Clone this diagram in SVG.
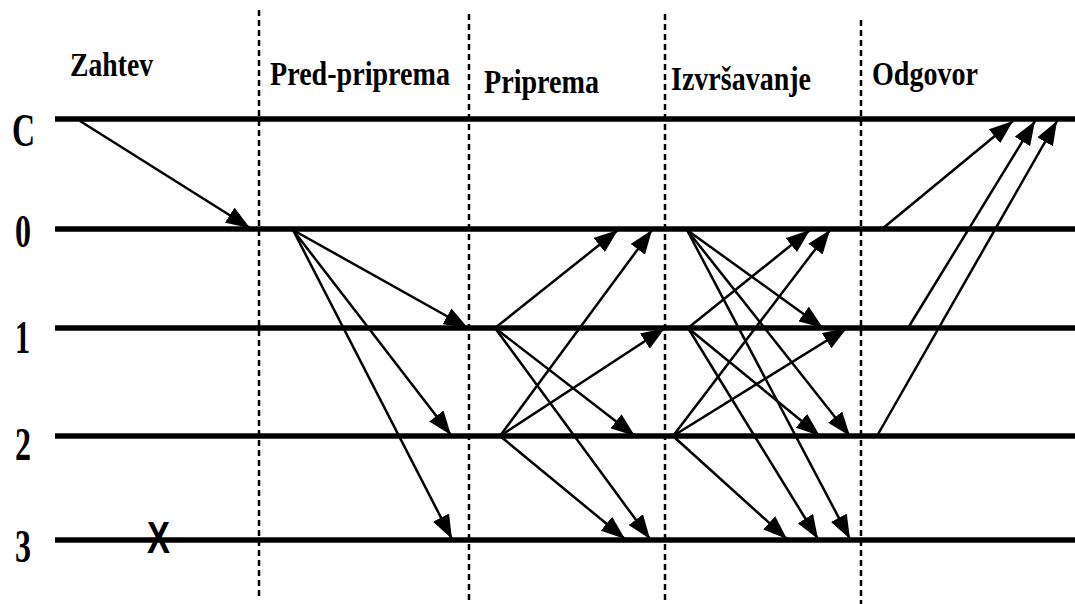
<svg xmlns="http://www.w3.org/2000/svg" width="1075" height="604" viewBox="0 0 1075 604">
  <style>
    .bg { fill: #ffffff; }
    .timeline { stroke: #000; stroke-width: 5.5; }
    .divider { stroke: #000; stroke-width: 2.5; stroke-dasharray: 6 4; }
    .msg { stroke: #000; stroke-width: 2.5; fill: none; marker-end: url(#head); }
    .phase { font-family: "Liberation Serif", "Times New Roman", serif; font-weight: bold; font-size: 34px; fill: #000; }
    .rid { font-family: "Liberation Serif", "Times New Roman", serif; font-weight: bold; font-size: 46px; fill: #000; }
    .fail { font-family: "Liberation Sans", Arial, sans-serif; font-weight: bold; font-size: 44px; fill: #000; }
  </style>
  <defs>
    <marker id="head" markerUnits="userSpaceOnUse" markerWidth="25" markerHeight="18" refX="24" refY="9" orient="auto" viewBox="0 0 25 18">
      <path d="M0,0 L24,9 L0,18 Z" fill="#000"/>
    </marker>
  </defs>

  <rect class="bg" x="0" y="0" width="1075" height="604"/>

  <!-- phase separators -->
  <g id="dividers">
    <line class="divider" x1="259" y1="10" x2="259" y2="600"/>
    <line class="divider" x1="469" y1="14" x2="469" y2="604"/>
    <line class="divider" x1="665" y1="14" x2="665" y2="600"/>
    <line class="divider" x1="861" y1="20" x2="861" y2="604"/>
  </g>

  <!-- phase titles -->
  <g id="phase-request"><text class="phase" x="70" y="76" textLength="83" lengthAdjust="spacingAndGlyphs">Zahtev</text></g>
  <g id="phase-preprepare"><text class="phase" x="270" y="85" textLength="180" lengthAdjust="spacingAndGlyphs">Pred-priprema</text></g>
  <g id="phase-prepare"><text class="phase" x="484" y="93" textLength="115" lengthAdjust="spacingAndGlyphs">Priprema</text></g>
  <g id="phase-commit"><text class="phase" x="671" y="90" textLength="140" lengthAdjust="spacingAndGlyphs">Izvršavanje</text></g>
  <g id="phase-reply"><text class="phase" x="872" y="85" textLength="106" lengthAdjust="spacingAndGlyphs">Odgovor</text></g>

  <!-- client and replica timelines -->
  <g id="client">
    <line class="timeline" x1="55" y1="119" x2="1075" y2="119"/>
    <text class="rid" x="12" y="146" textLength="23" lengthAdjust="spacingAndGlyphs">C</text>
  </g>
  <g id="replica-0">
    <line class="timeline" x1="55" y1="229" x2="1075" y2="229"/>
    <text class="rid" x="15" y="247" textLength="16" lengthAdjust="spacingAndGlyphs">0</text>
  </g>
  <g id="replica-1">
    <line class="timeline" x1="55" y1="328" x2="1075" y2="328"/>
    <text class="rid" x="15" y="353" textLength="15" lengthAdjust="spacingAndGlyphs">1</text>
  </g>
  <g id="replica-2">
    <line class="timeline" x1="55" y1="436" x2="1075" y2="436"/>
    <text class="rid" x="15" y="460" textLength="16" lengthAdjust="spacingAndGlyphs">2</text>
  </g>
  <g id="replica-3">
    <line class="timeline" x1="55" y1="540" x2="1075" y2="540"/>
    <text class="rid" x="15" y="562" textLength="16" lengthAdjust="spacingAndGlyphs">3</text>
    <text class="fail" x="147" y="553" textLength="23" lengthAdjust="spacingAndGlyphs">X</text>
  </g>

  <!-- messages -->
  <g id="connectors">
    <!-- request -->
    <line class="msg" x1="80" y1="121" x2="250" y2="228"/>
    <!-- pre-prepare from primary -->
    <line class="msg" x1="293" y1="230" x2="468" y2="328"/>
    <line class="msg" x1="293" y1="230" x2="451" y2="435"/>
    <line class="msg" x1="293" y1="230" x2="452" y2="539"/>
    <!-- prepare -->
    <line class="msg" x1="495" y1="328" x2="618" y2="230"/>
    <line class="msg" x1="495" y1="328" x2="635" y2="436"/>
    <line class="msg" x1="495" y1="328" x2="650" y2="539"/>
    <line class="msg" x1="500" y1="436" x2="652" y2="230"/>
    <line class="msg" x1="500" y1="436" x2="665" y2="328"/>
    <line class="msg" x1="500" y1="436" x2="625" y2="539"/>
    <!-- commit -->
    <line class="msg" x1="687" y1="230" x2="823" y2="328"/>
    <line class="msg" x1="687" y1="230" x2="850" y2="436"/>
    <line class="msg" x1="687" y1="230" x2="850" y2="539"/>
    <line class="msg" x1="688" y1="328" x2="810" y2="230"/>
    <line class="msg" x1="688" y1="328" x2="820" y2="436"/>
    <line class="msg" x1="688" y1="328" x2="818" y2="539"/>
    <line class="msg" x1="673" y1="436" x2="830" y2="230"/>
    <line class="msg" x1="673" y1="436" x2="847" y2="328"/>
    <line class="msg" x1="673" y1="436" x2="787" y2="539"/>
    <!-- reply -->
    <line class="msg" x1="882" y1="229" x2="1013" y2="121"/>
    <line class="msg" x1="908" y1="328" x2="1035" y2="121"/>
    <line class="msg" x1="877" y1="436" x2="1057" y2="121"/>
  </g>
</svg>
